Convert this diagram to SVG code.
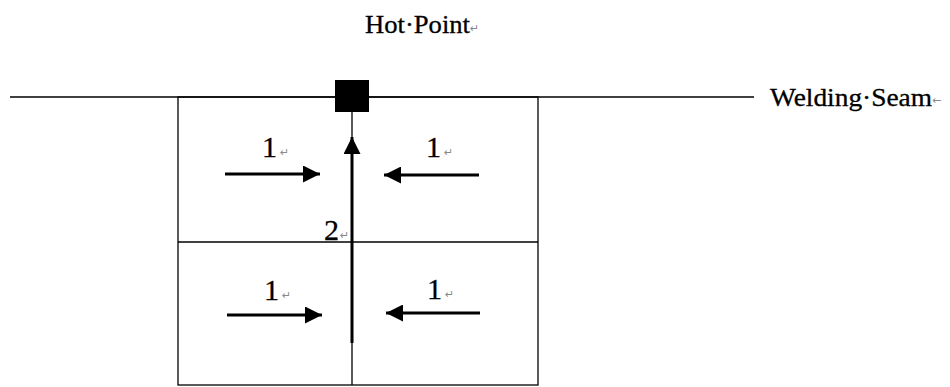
<svg xmlns="http://www.w3.org/2000/svg" width="950" height="387" viewBox="0 0 950 387">
<defs>
<style>
.thin{stroke:#000;stroke-width:1.3;fill:none}
.thick{stroke:#000;stroke-width:3;fill:none}
.lbl{font-family:"Liberation Serif","Times New Roman",serif;fill:#000;stroke:#000;stroke-width:0.3}
.mark{font-family:"DejaVu Sans",sans-serif;fill:#888;font-size:11px}
</style>
<marker id="ahv" viewBox="0 0 10 10" refX="10" refY="5" markerWidth="26" markerHeight="17" orient="auto" markerUnits="userSpaceOnUse">
<path d="M0,0 L10,5 L0,10 Z" fill="#000"/>
</marker>
</defs>
<rect width="950" height="387" fill="#fff"/>

<g id="seam">
<line class="thin" x1="10" y1="97" x2="754" y2="97"/>
<text class="lbl" x="770" y="106" font-size="25" textLength="162" lengthAdjust="spacingAndGlyphs">Welding·Seam</text>
<text class="mark" x="932" y="104">←</text>
</g>

<g id="plate">
<rect class="thin" x="178" y="97" width="360" height="288"/>
<line class="thin" x1="178" y1="242" x2="538" y2="242"/>
<line class="thin" x1="352" y1="112" x2="352" y2="385"/>
</g>

<g id="hotpoint">
<rect x="335" y="80" width="34" height="32" fill="#000"/>
<text class="lbl" x="365" y="33" font-size="25" textLength="105" lengthAdjust="spacingAndGlyphs">Hot·Point</text>
<text class="mark" x="470" y="32">↵</text>
</g>

<g id="connectors">
<line class="thick" x1="352" y1="343" x2="352" y2="137" marker-end="url(#ahv)"/>
<line class="thick" x1="225" y1="174" x2="320" y2="174" marker-end="url(#ahv)"/>
<line class="thick" x1="479" y1="175" x2="384" y2="175" marker-end="url(#ahv)"/>
<line class="thick" x1="227" y1="315" x2="322" y2="315" marker-end="url(#ahv)"/>
<line class="thick" x1="480" y1="313" x2="386" y2="313" marker-end="url(#ahv)"/>
</g>

<g id="labels">
<text class="lbl" x="262" y="157" font-size="30">1</text><text class="mark" x="280" y="156">↵</text>
<text class="lbl" x="426" y="157" font-size="30">1</text><text class="mark" x="444" y="156">↵</text>
<text class="lbl" x="264" y="300" font-size="30">1</text><text class="mark" x="282" y="299">↵</text>
<text class="lbl" x="427" y="299" font-size="30">1</text><text class="mark" x="445" y="298">↵</text>
<text class="lbl" x="324" y="240" font-size="30">2</text><text class="mark" x="340" y="239">↵</text>
</g>
</svg>
